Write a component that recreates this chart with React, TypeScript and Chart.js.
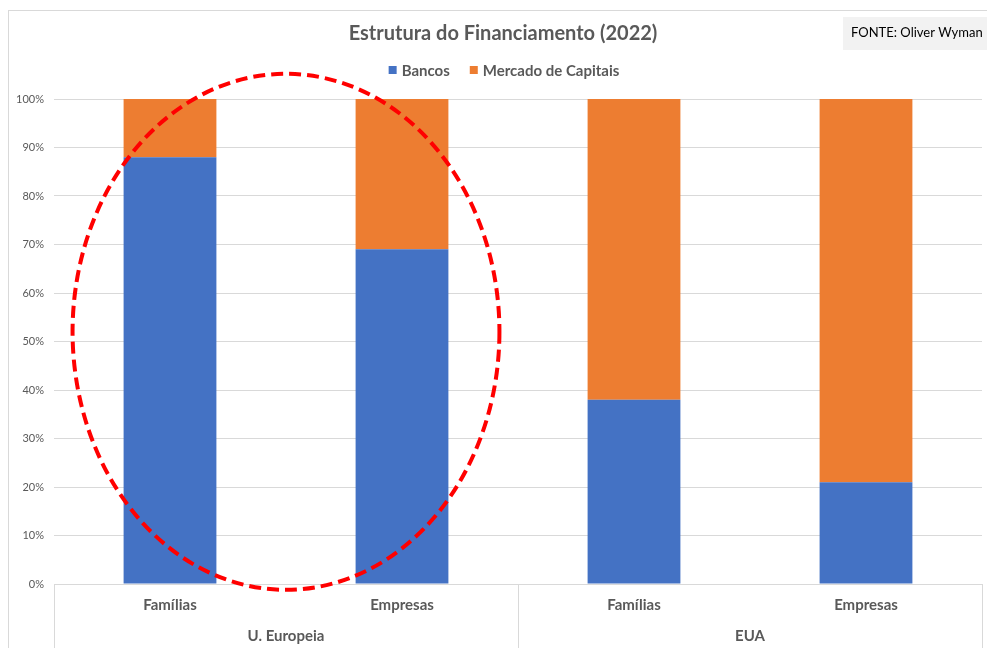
import React, { useEffect, useRef } from 'react';
import { Chart, registerables } from 'chart.js';

Chart.register(...registerables);

// ---- data ----
const categories = ['Famílias', 'Empresas', 'Famílias', 'Empresas'];
const groups = ['U. Europeia', 'EUA'];
const groupStart = [0, 2];
const groupEnd = [1, 3];
const bancos = [88, 69, 38, 21];
const mercadoCapitais = [12, 31, 62, 79];
const seriesNames = ['Bancos', 'Mercado de Capitais'];
const seriesColors = ['#4472C4', '#ED7D31'];
const yMin = 0;
const yMax = 100;
const yStep = 10;
const chartTitle = 'Estrutura do Financiamento (2022)';
const sourceText = 'FONTE: Oliver Wyman';
// highlighted region (data units): category index range and % range
const highlightCat = [-0.42, 1.42];
const highlightPct = [-1.2, 105.2];

const FONT = 'Lato, "Open Sans", "Noto Sans", sans-serif';
const TEXT = '#595959';
const GRID = '#D9D9D9';

const overlayPlugin = {
  id: 'overlay',
  beforeDraw(chart: any) {
    const ctx = chart.ctx;
    ctx.save();
    ctx.fillStyle = '#FFFFFF';
    ctx.fillRect(0, 0, chart.width, chart.height);
    ctx.strokeStyle = GRID;
    ctx.lineWidth = 1;
    ctx.strokeRect(8.5, 10.5, chart.width + 40, chart.height + 40);
    ctx.restore();
  },
  afterDraw(chart: any) {
    const { ctx, chartArea } = chart;
    const xs = chart.scales.x;
    const ys = chart.scales.y;
    ctx.save();

    // title
    ctx.font = `bold 20px ${FONT}`;
    ctx.fillStyle = TEXT;
    ctx.textAlign = 'center';
    ctx.textBaseline = 'middle';
    ctx.fillText(chartTitle, 503, 34);

    // legend
    ctx.font = `bold 15px ${FONT}`;
    const box = 8, gap = 5, itemGap = 20;
    const items = chart.data.datasets.map((ds: any) => ({ label: ds.label, color: ds.backgroundColor }));
    const widths = items.map((it: any) => box + gap + ctx.measureText(it.label).width);
    const total = widths.reduce((a: number, b: number) => a + b, 0) + itemGap * (items.length - 1);
    let lx = 504 - total / 2;
    const ly = 70;
    ctx.textAlign = 'left';
    items.forEach((it: any, i: number) => {
      ctx.fillStyle = it.color;
      ctx.fillRect(lx, ly - box / 2, box, box);
      ctx.fillStyle = TEXT;
      ctx.fillText(it.label, lx + box + gap, ly + 1);
      lx += widths[i] + itemGap;
    });

    // source box
    ctx.fillStyle = '#F2F2F2';
    ctx.fillRect(843, 17, 160, 33);
    ctx.font = `13px ${FONT}`;
    ctx.fillStyle = '#000000';
    ctx.textAlign = 'left';
    ctx.fillText(sourceText, 851, 33);

    // multi-level category separators
    ctx.strokeStyle = GRID;
    ctx.lineWidth = 1;
    const bounds = [chartArea.left];
    for (let g = 0; g < groups.length - 1; g++) {
      bounds.push((xs.getPixelForValue(groupEnd[g]) + xs.getPixelForValue(groupStart[g + 1])) / 2);
    }
    bounds.push(chartArea.right);
    bounds.forEach((bx) => {
      const px = Math.round(bx) + 0.5;
      ctx.beginPath();
      ctx.moveTo(px, chartArea.bottom);
      ctx.lineTo(px, chart.height);
      ctx.stroke();
    });

    // group labels
    ctx.font = `bold 15px ${FONT}`;
    ctx.fillStyle = TEXT;
    ctx.textAlign = 'center';
    groups.forEach((g, i) => {
      const gx = (xs.getPixelForValue(groupStart[i]) + xs.getPixelForValue(groupEnd[i])) / 2;
      ctx.fillText(g, gx, chartArea.bottom + 52);
    });

    // highlight ellipse
    const x0 = xs.getPixelForValue(highlightCat[0]);
    const x1 = xs.getPixelForValue(highlightCat[1]);
    const y0 = ys.getPixelForValue(highlightPct[1]);
    const y1 = ys.getPixelForValue(highlightPct[0]);
    ctx.beginPath();
    ctx.setLineDash([12, 6]);
    ctx.lineWidth = 4;
    ctx.strokeStyle = '#FF0000';
    ctx.ellipse((x0 + x1) / 2, (y0 + y1) / 2, (x1 - x0) / 2, (y1 - y0) / 2, 0, 0, Math.PI * 2);
    ctx.stroke();

    ctx.restore();
  },
};

export default function App() {
  const ref = useRef<HTMLCanvasElement>(null);

  useEffect(() => {
    if (!ref.current) return;
    const chart = new Chart(ref.current, {
      type: 'bar',
      data: {
        labels: categories,
        datasets: [
          {
            label: seriesNames[0],
            data: bancos,
            backgroundColor: seriesColors[0],
            barPercentage: 0.4,
            categoryPercentage: 1,
          },
          {
            label: seriesNames[1],
            data: mercadoCapitais,
            backgroundColor: seriesColors[1],
            barPercentage: 0.4,
            categoryPercentage: 1,
          },
        ],
      },
      options: {
        responsive: false,
        animation: false,
        layout: { padding: { top: 99, right: 5, left: 0, bottom: 0 } },
        plugins: {
          legend: { display: false },
          title: { display: false },
          tooltip: { enabled: false },
        },
        scales: {
          x: {
            stacked: true,
            grid: { display: false, drawTicks: false },
            border: { display: false },
            ticks: {
              font: { family: FONT, size: 15, weight: 'bold' },
              color: TEXT,
              padding: 12,
              maxRotation: 0,
            },
            afterFit: (s: any) => {
              s.height = 64;
              s.paddingLeft = 0;
              s.paddingRight = 0;
            },
          },
          y: {
            stacked: true,
            min: yMin,
            max: yMax,
            ticks: {
              stepSize: yStep,
              callback: (v: any) => `${v}%`,
              font: { family: FONT, size: 11 },
              color: TEXT,
              padding: 10,
            },
            grid: { color: GRID, drawTicks: false },
            border: { display: false },
            afterFit: (s: any) => {
              s.width = 54;
            },
          },
        },
      },
      plugins: [overlayPlugin],
    } as any);
    return () => chart.destroy();
  }, []);

  return (
    <div style={{ position: 'fixed', left: 0, top: 0, width: 987, height: 648 }}>
      <canvas ref={ref} width={987} height={648} style={{ width: 987, height: 648, display: 'block' }} />
    </div>
  );
}
